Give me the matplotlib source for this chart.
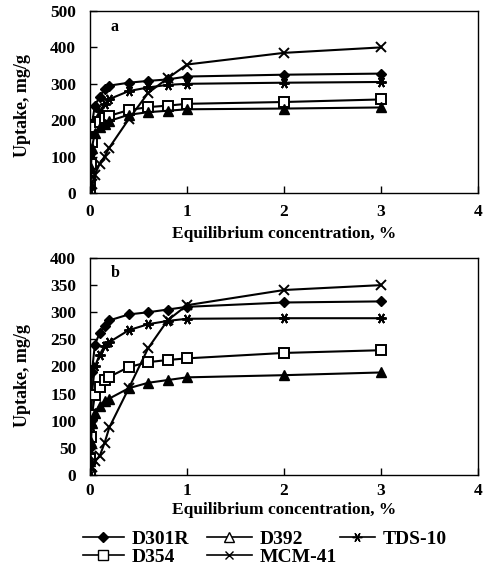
import matplotlib
matplotlib.use("Agg")
import matplotlib.pyplot as plt
from matplotlib.lines import Line2D

plt.rcParams['font.family'] = ['Liberation Serif', 'DejaVu Serif']
plt.rcParams['font.weight'] = 'bold'

# ---- data ----
x_common = [0, 0.005, 0.01, 0.02, 0.05, 0.1, 0.15, 0.2, 0.4, 0.6, 0.8, 1, 2, 3]
x_mcm = [0, 0.02, 0.05, 0.1, 0.15, 0.2, 0.4, 0.6, 0.8, 1, 2, 3]

d301r_a = [0, 40, 110, 190, 240, 265, 285, 295, 303, 308, 312, 320, 325, 328]
tds10_a = [0, 35, 90, 160, 200, 225, 245, 258, 280, 290, 297, 300, 303, 305]
d354_a = [0, 30, 80, 140, 180, 195, 205, 212, 228, 236, 240, 245, 250, 257]
d392_a = [0, 25, 70, 125, 165, 180, 190, 198, 215, 222, 226, 230, 232, 235]
mcm41_a = [0, 25, 50, 80, 100, 125, 203, 275, 315, 353, 385, 400]

d301r_b = [0, 50, 100, 190, 240, 262, 275, 285, 296, 300, 305, 310, 318, 320]
tds10_b = [0, 40, 90, 150, 200, 222, 238, 245, 267, 278, 284, 288, 289, 289]
d354_b = [0, 30, 70, 110, 148, 163, 175, 181, 199, 208, 212, 215, 225, 230]
d392_b = [0, 25, 60, 95, 115, 128, 136, 141, 160, 170, 175, 180, 184, 189]
mcm41_b = [0, 15, 25, 35, 59, 88, 160, 234, 285, 313, 341, 350]

series_names = ['D301R', 'D392', 'TDS-10', 'D354', 'MCM-41']
x_ticks = [0, 1, 2, 3, 4]
y_ticks_a = [0, 100, 200, 300, 400, 500]
y_ticks_b = [0, 50, 100, 150, 200, 250, 300, 350, 400]

styles = {
    'D301R': dict(marker='D', mfc='black', ms=5.5),
    'D392': dict(marker='^', mfc='black', ms=6.5),
    'TDS-10': dict(marker=(6, 2, 30), mfc='black', ms=7.5, mew=1.4),
    'D354': dict(marker='s', mfc='white', ms=6.5, mew=1.4),
    'MCM-41': dict(marker='x', mfc='black', ms=6.5, mew=1.4),
}

W, H = 485, 573
fig = plt.figure(figsize=(W / 100, H / 100), dpi=100)
ax_a = fig.add_axes([90 / W, 1 - 193 / H, 388 / W, 182 / H])
ax_b = fig.add_axes([90 / W, 1 - 475 / H, 388 / W, 217 / H])

def draw(ax, data, yticks, label, xpad, xlab_y, ylab_y, lab_y):
    for name, (xs, ys) in data.items():
        ax.plot(xs, ys, color='black', lw=1.5, mec='black', **styles[name])
    ax.set_xlim(0, 4)
    ax.set_ylim(yticks[0], yticks[-1])
    ax.set_xticks(x_ticks)
    ax.set_yticks(yticks)
    ax.tick_params(direction='in', length=5, labelsize=12.5, width=1)
    ax.tick_params(axis='x', pad=xpad)
    ax.tick_params(axis='y', pad=10)
    for lab in ax.get_xticklabels() + ax.get_yticklabels():
        lab.set_fontweight('bold')
    ax.set_xlabel('Equilibrium concentration, %', fontsize=12.5, fontweight='bold', va='top')
    ax.xaxis.set_label_coords(0.5, xlab_y)
    ax.set_ylabel('Uptake, mg/g', fontsize=13, fontweight='bold', va='center')
    ax.yaxis.set_label_coords(-0.173, ylab_y)
    ax.text(0.064, lab_y, label, transform=ax.transAxes, fontsize=11.5,
            fontweight='bold', ha='center', va='center')
    for s in ax.spines.values():
        s.set_linewidth(1)

draw(ax_a, {
    'D301R': (x_common, d301r_a),
    'TDS-10': (x_common, tds10_a),
    'D354': (x_common, d354_a),
    'D392': (x_common, d392_a),
    'MCM-41': (x_mcm, mcm41_a),
}, y_ticks_a, 'a', 8.0, -0.18, 0.48, 0.91)

draw(ax_b, {
    'D301R': (x_common, d301r_b),
    'TDS-10': (x_common, tds10_b),
    'D354': (x_common, d354_b),
    'D392': (x_common, d392_b),
    'MCM-41': (x_mcm, mcm41_b),
}, y_ticks_b, 'b', 6.0, -0.125, 0.46, 0.93)

legend_styles = dict(styles)
legend_styles['D392'] = dict(marker='^', mfc='white', ms=6.5, mew=1.0)
legend_styles['TDS-10'] = dict(marker=(6, 2, 30), mfc='black', ms=7, mew=1.0)
legend_styles['MCM-41'] = dict(marker='x', mfc='black', ms=6, mew=1.0)
legend_styles['D354'] = dict(marker='s', mfc='white', ms=6.5, mew=1.0)

# legend entry placement: (name, left px, row center px, handle length)
legend_layout = [
    ('D301R', 83, 539, 2.1),
    ('D354', 83, 557, 2.1),
    ('D392', 207, 539, 2.3),
    ('MCM-41', 207, 557, 2.3),
    ('TDS-10', 340, 539, 1.8),
]
for name, lx, ly, hl in legend_layout:
    h = Line2D([], [], color='black', lw=1.2, mec='black', **legend_styles[name])
    leg = fig.legend([h], [name], loc='center left', bbox_to_anchor=(lx / W, 1 - ly / H),
                     frameon=False, borderpad=0, borderaxespad=0,
                     prop=dict(family='Liberation Serif', weight='bold', size=14),
                     handlelength=hl, handletextpad=0.4)

fig.savefig('out.png', dpi=100)
